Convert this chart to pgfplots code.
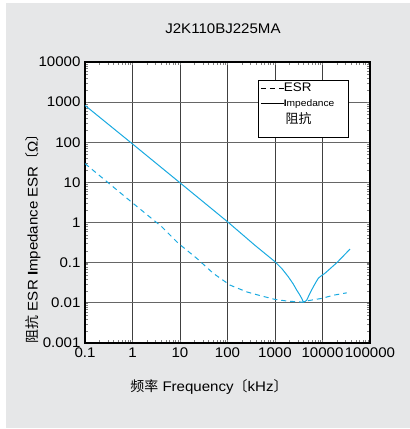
\documentclass[border=0pt]{standalone}
\usepackage{pgfplots}
\pgfplotsset{compat=1.18}
\usepackage{fontspec}
\setmainfont{Liberation Sans}[FakeStretch=1.08]
\newfontfamily\cjk{Noto Sans CJK SC}
\definecolor{bggray}{HTML}{E6E7E8}
\definecolor{curve}{RGB}{25,170,225}
\begin{document}
\begin{tikzpicture}[x=1bp,y=1bp]
\fill[white] (0,0) rectangle (410,-429);
\fill[bggray] (6,-3) rectangle (410,-428);
\begin{axis}[
  at={(85bp,-343bp)}, anchor=south west,
  scale only axis, width=285bp, height=281bp,
  xmode=log, ymode=log,
  xmin=0.1, xmax=100000, ymin=0.001, ymax=10000,
  xtick={0.1,1,10,100,1000,10000,100000},
  xticklabels={0.1,1,10,100,1000,10000,100000},
  ytick={0.001,0.01,0.1,1,10,100,1000,10000},
  yticklabels={0.001,0.01,0.1,1,10,100,1000,10000},
  minor tick num=0, minor xtick={}, minor ytick={},
  major tick length=0pt,
  ticklabel style={font=\fontsize{14}{16}\selectfont},
  xticklabel style={yshift=-1bp},
  yticklabel style={xshift=-1bp},
  grid=major,
  major x grid style={black!75, line width=0.9bp},
  major y grid style={black!60, line width=0.9bp},
  axis line style={black, line width=1.1bp},
  axis background/.style={fill=white},
  title={J2K110BJ225MA},
  title style={at={(axis description cs:0.484,1.096)}, anchor=center, font=\fontsize{14}{16}\selectfont},
  xlabel={{\cjk 频率} Frequency{\cjk 〔}kHz{\cjk 〕}},
  xlabel style={at={(axis description cs:0.435,-0.157)}, anchor=center, font=\fontsize{14}{16}\selectfont},
  ylabel={{\cjk 阻抗} ESR \textbf{I}mpedance ESR{\cjk 〔}Ω{\cjk 〕}},
  ylabel style={at={(axis description cs:-0.182,0.384)}, anchor=center, rotate=0, font=\fontsize{14}{16}\selectfont},
]
\addplot[curve, line width=1bp] table {
x y
0.1 832
1 91
10 9.8
100 1.05
379 0.271
1000 0.106
1400 0.071
1905 0.0447
2400 0.030
2864 0.0208
3300 0.0160
3650 0.0129
3945 0.0106
4300 0.0108
4650 0.0117
5010 0.0141
5700 0.0192
6400 0.0251
7300 0.0330
8130 0.0407
8850 0.0447
11200 0.0543
20000 0.100
38000 0.219
};
\addplot[curve, line width=1bp, dash pattern=on 5bp off 4bp] table {
x y
0.1 29.5
1 3.1
4.12 0.79
9.2 0.305
22.5 0.129
50.3 0.0543
113 0.0277
253 0.0188
483 0.0152
1000 0.0122
1905 0.0110
3945 0.0104
4650 0.0112
9550 0.0129
17000 0.0155
32400 0.0178
};
% legend
\draw[black, line width=0.8bp, fill=white] (rel axis cs:0.607,0.936) rectangle (rel axis cs:0.923,0.730);
\draw[black, line width=0.6bp, dash pattern=on 5bp off 4bp] (rel axis cs:0.6175,0.907) -- ++(23bp,0bp);
\draw[black, line width=0.6bp] (rel axis cs:0.6175,0.853) -- ++(23bp,0bp);
\node[anchor=base west, inner sep=0pt, font=\fontsize{12.5}{14}\selectfont] at (rel axis cs:0.697,0.894) {ESR};
\node[anchor=base west, inner sep=0pt, font=\fontsize{9.5}{11}\selectfont] at (rel axis cs:0.697,0.841) {\textbf{I}mpedance};
\node[anchor=base west, inner sep=0pt, font=\fontsize{13}{14}\selectfont] at (rel axis cs:0.703,0.781) {\cjk 阻抗};
\end{axis}
\end{tikzpicture}
\end{document}
